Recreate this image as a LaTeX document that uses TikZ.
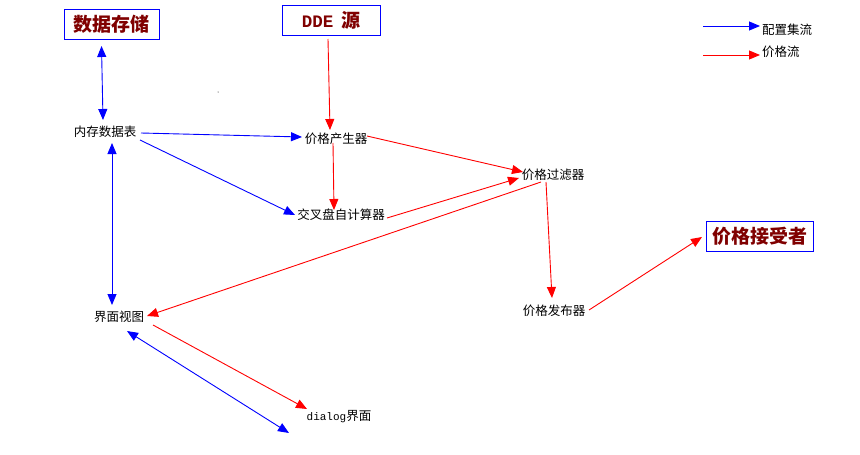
\documentclass[tikz,border=0pt]{standalone}
\usepackage{fontspec}
\setmainfont{Liberation Serif}
\newfontfamily\cjk{Noto Sans CJK SC}
\newfontfamily\monof{Liberation Mono}
\usetikzlibrary{arrows.meta,calc}
\definecolor{dred}{HTML}{800000}
\definecolor{pblue}{RGB}{0,0,255}
\definecolor{pred}{RGB}{255,0,0}
\begin{document}
\begin{tikzpicture}[x=1pt,y=-1pt,
  lbl/.style={inner sep=0pt,font=\cjk\fontsize{12.5}{13}\selectfont},
  bigbox/.style={draw=pblue,line width=1pt,text=dred,minimum height=30pt,inner sep=0pt,
     font=\cjk\bfseries\fontsize{19}{20}\selectfont},
  tip/.style={Triangle[length=11pt,width=9pt]},
  bflow/.style={draw=pblue,line width=0.9pt,-{Triangle[length=11pt,width=9pt]}},
  bflow2/.style={draw=pblue,line width=0.9pt,{Triangle[length=11pt,width=9pt]}-{Triangle[length=11pt,width=9pt]}},
  rflow/.style={draw=pred,line width=0.9pt,-{Triangle[length=11pt,width=9pt]}}]
\useasboundingbox (0,0) rectangle (860,455);
\fill[white] (0,0) rectangle (860,455);
% boxes
\node[bigbox,minimum width=95pt] (ds) at (111.5,24) {数据存储};
\node[bigbox,minimum width=98pt] (dde) at (331,20) {{\monof\bfseries\fontsize{17.5}{18}\selectfont DDE}\hspace{8pt}源};
\node[bigbox,minimum width=107pt] (acc) at (759.5,236) {价格接受者};
% labels
\node[lbl] (mem) at (105,132) {内存数据表};
\node[lbl] (pg) at (336,139) {价格产生器};
\node[lbl] (pf) at (553,175) {价格过滤器};
\node[lbl] (cc) at (341,215) {交叉盘自计算器};
\node[lbl] (view) at (119,317) {界面视图};
\node[lbl] (pp) at (554,311) {价格发布器};
\node[lbl] (dlg) at (339,417) {{\monof\fontsize{11}{12}\selectfont dialog}界面};
\coordinate (free) at (289,433);
\fill (218,92) circle (0.5pt);
% legend
\coordinate (lb1) at (703,26);
\coordinate (lb2) at (760,26);
\coordinate (lr1) at (703,55);
\coordinate (lr2) at (760,55);
\draw[bflow] (lb1) -- (lb2);
\draw[rflow] (lr1) -- (lr2);
\node[lbl,anchor=west] (lbt) at (762,30) {配置集流};
\node[lbl,anchor=west] (lrt) at (762,52) {价格流};
% blue connectors
\draw[bflow2] ($(ds)+(-10,22)$) -- ($(mem)+(-2,-12)$);
\draw[bflow] ($(mem)+(36,1)$) -- ($(pg)+(-34,-2)$);
\draw[bflow] ($(mem)+(35,8)$) -- ($(cc)+(-46,0)$);
\draw[bflow2] ($(mem)+(7,11)$) -- ($(view)+(-7,-12)$);
\draw[bflow2] ($(view)+(8,14)$) -- (free);
% red connectors
\draw[rflow] ($(dde)+(-3,19)$) -- ($(pg)+(-6,-9)$);
\draw[rflow] ($(pg)+(31,-3)$) -- ($(pf)+(-30,-3)$);
\draw[rflow] ($(pg)+(-3,4)$) -- ($(cc)+(-7,-5)$);
\draw[rflow] ($(cc)+(46,3)$) -- ($(pf)+(-34,3)$);
\draw[rflow] ($(pf)+(-12,7)$) -- ($(view)+(28,-1)$);
\draw[rflow] ($(pf)+(-7,7)$) -- ($(pp)+(-2,-13)$);
\draw[rflow] ($(pp)+(35,-1)$) -- ($(acc)+(-57.5,1)$);
\draw[rflow] ($(view)+(34,8)$) -- ($(dlg)+(-32,-8)$);
\end{tikzpicture}
\end{document}
